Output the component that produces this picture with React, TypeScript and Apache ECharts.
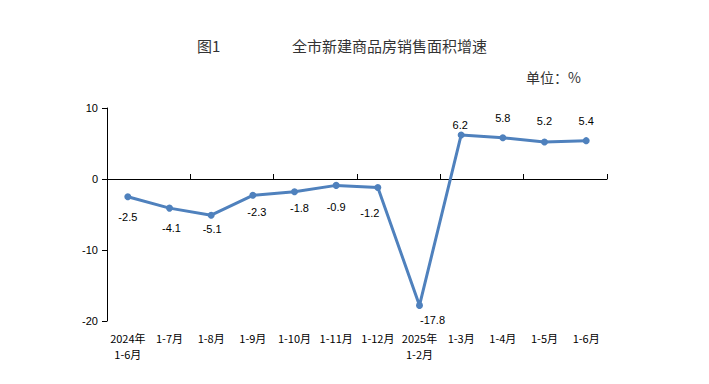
import React, { useEffect, useRef } from "react";
import * as echarts from "echarts";

const categories = [
  "2024年\n1-6月", "1-7月", "1-8月", "1-9月", "1-10月", "1-11月", "1-12月",
  "2025年\n1-2月", "1-3月", "1-4月", "1-5月", "1-6月",
];
const growth = [-2.5, -4.1, -5.1, -2.3, -1.8, -0.9, -1.2, -17.8, 6.2, 5.8, 5.2, 5.4];
const yTicks = [-20, -10, 0, 10];

const labelOffsets: number[][] = [
  [0, 20], [2, 20], [1, 14], [4, 17], [5, 16], [0, 22], [-8, 25], [13, 15],
  [-1, -10], [0, -20], [0, -21], [0, -20],
];

export default function App() {
  const ref = useRef<HTMLDivElement>(null);
  useEffect(() => {
    if (!ref.current) return;
    const chart = echarts.init(ref.current, null, { renderer: "svg" });
    const font = "'Microsoft YaHei', 'Noto Sans CJK SC', sans-serif";
    chart.setOption({
      animation: false,
      textStyle: { fontFamily: font },
      title: [
        { text: "图1", left: 192, top: 33, textStyle: { fontSize: 15, fontWeight: "normal", color: "#333", fontFamily: font } },
        { text: "全市新建商品房销售面积增速", left: 287, top: 33, textStyle: { fontSize: 15, fontWeight: "normal", color: "#333", fontFamily: font } },
        { text: "单位：%", left: 521, top: 65, textStyle: { fontSize: 14, fontWeight: "normal", color: "#333", fontFamily: font } },
      ],
      grid: { left: 107, right: 102, top: 108, bottom: 63 },
      xAxis: [
        {
          type: "category",
          data: categories,
          boundaryGap: true,
          axisLine: { onZero: true, lineStyle: { color: "#000", width: 1 } },
          axisTick: { show: true, inside: true, length: 5, lineStyle: { color: "#000" } },
          axisLabel: { show: false },
        },
        {
          type: "category",
          data: categories,
          position: "bottom",
          axisLine: { show: false, onZero: false },
          axisTick: { show: false },
          axisLabel: {
            show: true, interval: 0, color: "#000", fontSize: 11, margin: 9, lineHeight: 16,
            fontFamily: "'Noto Sans CJK SC', sans-serif",
          },
        },
      ],
      yAxis: {
        type: "value",
        min: yTicks[0],
        max: yTicks[yTicks.length - 1],
        interval: 10,
        axisLine: { show: true, lineStyle: { color: "#000", width: 1 } },
        axisTick: { show: true, length: 5, lineStyle: { color: "#000" } },
        axisLabel: { color: "#000", fontSize: 11, margin: 9, fontFamily: "Arial, 'Liberation Sans', sans-serif" },
        splitLine: { show: false },
      },
      series: [
        {
          type: "line",
          xAxisIndex: 0,
          data: growth.map((v, i) => ({
            value: v,
            label: {
              position: "inside",
              offset: labelOffsets[i],
            },
          })),
          lineStyle: { color: "#4f81bd", width: 3 },
          itemStyle: { color: "#4f81bd" },
          symbol: "circle",
          symbolSize: 7,
          label: {
            show: true,
            color: "#000",
            fontSize: 11,
            fontFamily: "Arial, 'Liberation Sans', sans-serif",
            formatter: (p: any) => p.value.toFixed(1),
          },
        },
      ],
    });
    return () => chart.dispose();
  }, []);
  return <div ref={ref} style={{ width: 709, height: 384, margin: -8 }} />;
}
